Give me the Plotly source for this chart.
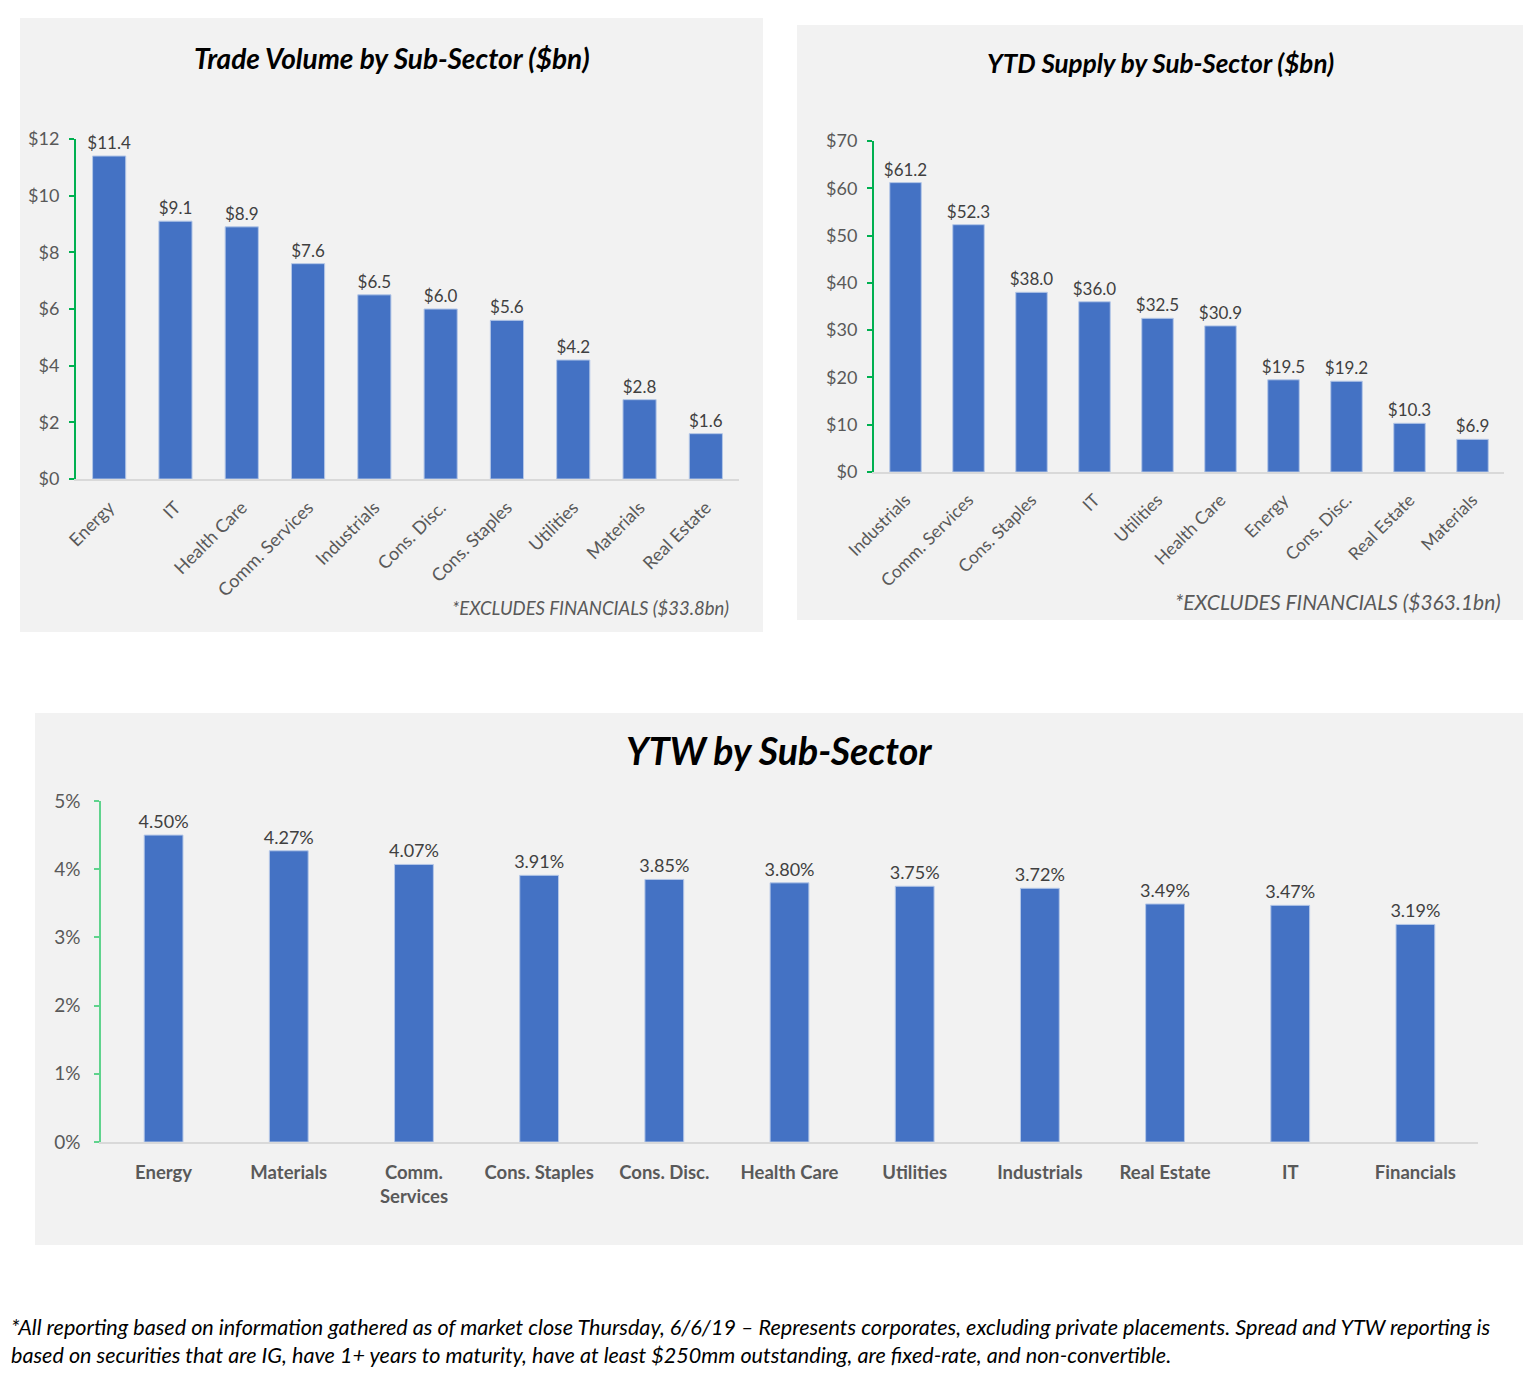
import plotly.graph_objects as go

# ---------------- data ----------------
tv_categories = ["Energy", "IT", "Health Care", "Comm. Services", "Industrials",
                 "Cons. Disc.", "Cons. Staples", "Utilities", "Materials", "Real Estate"]
tv_values = [11.4, 9.1, 8.9, 7.6, 6.5, 6.0, 5.6, 4.2, 2.8, 1.6]

sup_categories = ["Industrials", "Comm. Services", "Cons. Staples", "IT", "Utilities",
                  "Health Care", "Energy", "Cons. Disc.", "Real Estate", "Materials"]
sup_values = [61.2, 52.3, 38.0, 36.0, 32.5, 30.9, 19.5, 19.2, 10.3, 6.9]

ytw_categories = ["Energy", "Materials", "Comm.<br>Services", "Cons. Staples", "Cons. Disc.",
                  "Health Care", "Utilities", "Industrials", "Real Estate", "IT", "Financials"]
ytw_values = [4.50, 4.27, 4.07, 3.91, 3.85, 3.80, 3.75, 3.72, 3.49, 3.47, 3.19]

tv_ticks = [0, 2, 4, 6, 8, 10, 12]
sup_ticks = [0, 10, 20, 30, 40, 50, 60, 70]
ytw_ticks = [0, 1, 2, 3, 4, 5]

# ---------------- layout helpers ----------------
W, H = 1519, 1373
OFF = 8
FONT = "Lato, Carlito, 'Open Sans', sans-serif"
BLUE = "#4472c4"
GRAY_TXT = "#595959"
LBL_TXT = "#404040"
PANEL = "#f2f2f2"


def px(x):
    return (x - OFF) / W


def py(y):
    return 1 - (y - OFF) / H


fig = go.Figure()

bar_common = dict(marker=dict(color=BLUE, line=dict(color="#b4c7e7", width=1)),
                  textposition="outside", constraintext="none",
                  cliponaxis=False, showlegend=False)

fig.add_trace(go.Bar(x=tv_categories, y=tv_values, xaxis="x", yaxis="y",
                     text=[f"${v:.1f}" for v in tv_values], width=0.5,
                     textfont=dict(family=FONT, size=17, color=LBL_TXT), **bar_common))
fig.add_trace(go.Bar(x=sup_categories, y=sup_values, xaxis="x2", yaxis="y2",
                     text=[f"${v:.1f}" for v in sup_values], width=0.5,
                     textfont=dict(family=FONT, size=17, color=LBL_TXT), **bar_common))
fig.add_trace(go.Bar(x=ytw_categories, y=ytw_values, xaxis="x3", yaxis="y3",
                     text=[f"{v:.2f}%" for v in ytw_values], width=0.31,
                     textfont=dict(family=FONT, size=18, color=LBL_TXT), **bar_common))

shapes = []
for (x0, y0, x1, y1) in [(20, 18, 763, 632), (797, 25, 1523, 620), (35, 713, 1523, 1245)]:
    shapes.append(dict(type="rect", xref="paper", yref="paper", layer="below",
                       x0=px(x0), x1=px(x1), y0=py(y1), y1=py(y0),
                       fillcolor=PANEL, line=dict(width=0)))


def xax(domain, anchor, angle, bold=False, size=16, gap=8):
    return dict(domain=domain, anchor=anchor, showline=True, linecolor="#d9d9d9", linewidth=2,
                showgrid=False, zeroline=False, tickangle=angle,
                ticks="outside", ticklen=gap, tickcolor="rgba(0,0,0,0)",
                tickfont=dict(family=FONT, size=size, color=GRAY_TXT,
                              weight="bold" if bold else "normal"),
                automargin=False, fixedrange=True)


def yax(domain, anchor, ticks, prefix="", suffix="", green="#00b050", lw=2, size=18, standoff=6):
    return dict(domain=domain, anchor=anchor, range=[ticks[0], ticks[-1]],
                tickvals=ticks, ticktext=[f"{prefix}{t}{suffix}" for t in ticks],
                showline=True, linecolor=green, linewidth=lw, ticks="outside",
                tickcolor=green, tickwidth=lw, ticklen=5, showgrid=False, zeroline=False,
                ticklabelstandoff=standoff,
                tickfont=dict(family=FONT, size=size, color=GRAY_TXT),
                automargin=False, fixedrange=True)


fig.update_layout(
    width=W, height=H, autosize=False,
    margin=dict(l=0, r=0, t=0, b=0, pad=0, autoexpand=False),
    paper_bgcolor="white", plot_bgcolor="rgba(0,0,0,0)",
    shapes=shapes,
    xaxis=xax([px(76), px(739)], "y", -45, size=18, gap=9),
    yaxis=yax([py(479), py(139)], "x", tv_ticks, prefix="$"),
    xaxis2=xax([px(874), px(1504)], "y2", -45, size=17.5, gap=9),
    yaxis2=yax([py(472), py(141)], "x2", sup_ticks, prefix="$"),
    xaxis3=xax([px(101), px(1478)], "y3", 0, bold=True, size=18.5, gap=13),
    yaxis3=yax([py(1142), py(801)], "x3", ytw_ticks, suffix="%", green="#5fd38d", lw=1.5,
               size=19, standoff=10),
)

annos = [
    dict(text="Trade Volume by Sub-Sector ($bn)", x=px(392), y=py(58), size=28, bold=True, color="black", xanchor="center"),
    dict(text="YTD Supply by Sub-Sector ($bn)", x=px(1160), y=py(63), size=26, bold=True, color="black", xanchor="center"),
    dict(text="YTW by Sub-Sector", x=px(779), y=py(750), size=37.5, bold=True, color="black", xanchor="center"),
    dict(text="*EXCLUDES FINANCIALS ($33.8bn)", x=px(731), y=py(608), size=18.5, bold=False, color=GRAY_TXT, xanchor="right"),
    dict(text="*EXCLUDES FINANCIALS ($363.1bn)", x=px(1503), y=py(601), size=21, bold=False, color=GRAY_TXT, xanchor="right"),
    dict(text="*All reporting based on information gathered as of market close Thursday, 6/6/19 \u2013 Represents corporates, excluding private placements. Spread and YTW reporting is",
         x=px(9), y=py(1327), size=21.6, bold=False, color="black", xanchor="left"),
    dict(text="based on securities that are IG, have 1+ years to maturity, have at least $250mm outstanding, are fixed-rate, and non-convertible.",
         x=px(9), y=py(1355), size=21.6, bold=False, color="black", xanchor="left"),
]
fig.update_layout(annotations=[
    dict(text=a["text"], x=a["x"], y=a["y"], xref="paper", yref="paper",
         xanchor=a["xanchor"], yanchor="middle", showarrow=False,
         font=dict(family=FONT, size=a["size"], color=a["color"], style="italic",
                   weight="bold" if a["bold"] else "normal"))
    for a in annos
])

fig.write_html("out.html")
